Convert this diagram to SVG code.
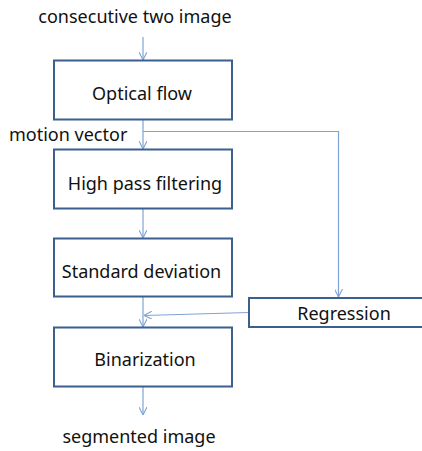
<svg xmlns="http://www.w3.org/2000/svg" width="422" height="451" viewBox="0 0 422 451">
<style>
.box{fill:#fff;stroke:#3b5f8f;stroke-width:2}
.t{font-family:"Noto Sans","Open Sans",sans-serif;font-size:18px;fill:#111}
.c{fill:none;stroke:#7fa3d6;stroke-width:1.2}
</style>
<defs>
<marker id="ah" viewBox="0 0 10 10" refX="10" refY="5" markerWidth="8" markerHeight="8" markerUnits="userSpaceOnUse" orient="auto">
<path d="M0,0 L10,5 L0,10" fill="none" stroke="#7fa3d6" stroke-width="1.4"/>
</marker>
</defs>
<rect width="422" height="451" fill="#fff"/>
<g id="connectors">
<path class="c" d="M143,37 V60" marker-end="url(#ah)"/>
<path class="c" d="M143,120 V149" marker-end="url(#ah)"/>
<path class="c" d="M143,131.5 H338.5 V297" marker-end="url(#ah)"/>
<path class="c" d="M143,209 V238" marker-end="url(#ah)"/>
<path class="c" d="M143,297 V327" marker-end="url(#ah)"/>
<path class="c" d="M249,312.5 L144,315.5" marker-end="url(#ah)"/>
<path class="c" d="M143,387 V415" marker-end="url(#ah)"/>
</g>
<g id="input"><text class="t" x="135" y="23" text-anchor="middle">consecutive two image</text></g>
<g id="optical-flow">
<rect class="box" x="54" y="60.5" width="178" height="59"/>
<text class="t" x="142" y="100" text-anchor="middle">Optical flow</text>
</g>
<g id="motion-vector"><text class="t" x="9" y="141">motion vector</text></g>
<g id="high-pass">
<rect class="box" x="54" y="149.5" width="178" height="59"/>
<text class="t" x="145" y="190" text-anchor="middle">High pass filtering</text>
</g>
<g id="std-dev">
<rect class="box" x="54" y="238.5" width="178" height="58"/>
<text class="t" x="141.5" y="277.5" text-anchor="middle">Standard deviation</text>
</g>
<g id="regression">
<rect class="box" x="249" y="298" width="180" height="29"/>
<text class="t" x="344" y="320" text-anchor="middle">Regression</text>
</g>
<g id="binarization">
<rect class="box" x="54" y="327.5" width="178" height="59"/>
<text class="t" x="145" y="366" text-anchor="middle">Binarization</text>
</g>
<g id="output"><text class="t" x="139" y="443" text-anchor="middle">segmented image</text></g>
</svg>
